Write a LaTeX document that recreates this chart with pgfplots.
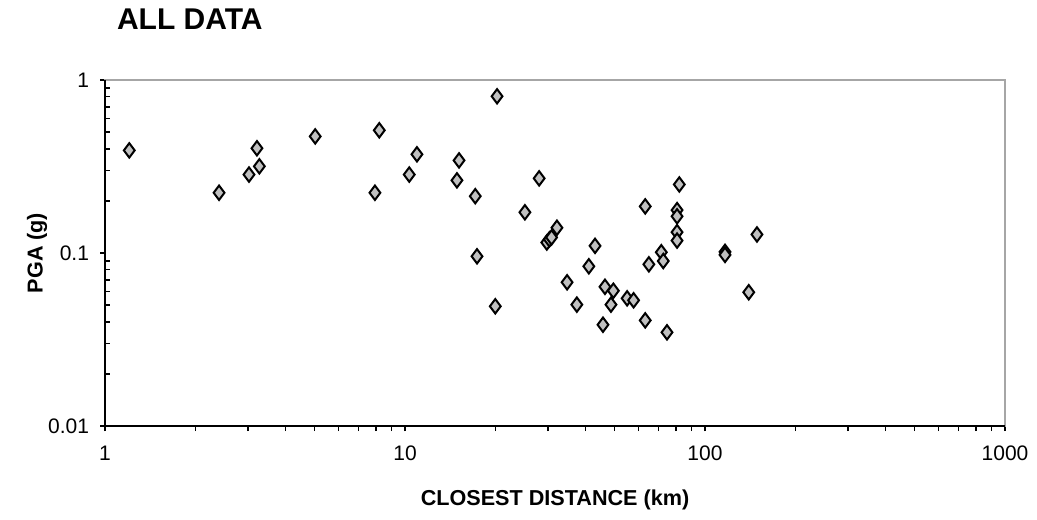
\documentclass[border=0pt]{standalone}
\usepackage{fontspec}
\setmainfont{Liberation Sans}
\usepackage{pgfplots}
\pgfplotsset{compat=1.18}
\definecolor{mk}{RGB}{192,192,192}
\begin{document}
\begin{tikzpicture}
\begin{axis}[
  name=ax,
  xmode=log, ymode=log,
  scale only axis,
  width=450pt, height=173pt,
  xmin=1, xmax=1000, ymin=0.01, ymax=1,
  xtick={1,10,100,1000}, xticklabels={1,10,100,1000},
  ytick={0.01,0.1,1}, yticklabels={0.01,0.1,1},
  yminorticks=false,
  extra y ticks={0.02,0.03,0.04,0.05,0.06,0.07,0.08,0.09,0.2,0.3,0.4,0.5,0.6,0.7,0.8,0.9},
  extra y tick labels={},
  extra y tick style={tick align=inside, major tick length=2.5pt, ytick pos=left},
  xtick pos=bottom, ytick pos=left,
  tick align=outside,
  major tick length=2.5pt, minor tick length=2.5pt,
  tick style={black, line width=0.7pt},
  axis line style={draw=gray!70, line width=0.8pt},
  ticklabel style={font=\fontsize{10.5}{12}\selectfont},
  xticklabel style={yshift=-4pt},
  yticklabel style={xshift=-2pt},
  title={ALL DATA},
  title style={at={(axis description cs:0,1)}, anchor=west, xshift=2.5pt, yshift=24.5pt, font=\bfseries\fontsize{15}{17}\selectfont},
  xlabel={CLOSEST DISTANCE (km)},
  ylabel={PGA (g)},
  xlabel style={at={([yshift=-37pt]axis description cs:0.5,0)}, anchor=center, font=\bfseries\fontsize{10.8}{12}\selectfont},
  ylabel style={at={([xshift=-34pt]axis description cs:0,0.5)}, anchor=center, rotate=0, font=\bfseries\fontsize{10.8}{12}\selectfont},
  clip=false,
]
\addplot[only marks, mark=diamond*, mark size=3.6pt, mark options={fill=mk, draw=black, line width=1pt}] coordinates {
(1.205,0.392)
(2.40,0.223)
(3.02,0.284)
(3.21,0.403)
(3.27,0.317)
(5.02,0.472)
(8.21,0.512)
(7.94,0.223)
(10.33,0.284)
(10.96,0.372)
(15.14,0.343)
(14.9,0.263)
(17.15,0.213)
(17.38,0.0957)
(20.27,0.805)
(20.0,0.0492)
(25.1,0.172)
(28.0,0.270)
(29.7,0.115)
(30.3,0.120)
(30.8,0.123)
(32.1,0.140)
(34.7,0.0677)
(37.4,0.0503)
(41.0,0.0838)
(43.0,0.110)
(45.7,0.0385)
(46.4,0.0638)
(49.5,0.0605)
(48.6,0.0503)
(55.0,0.0547)
(57.8,0.0533)
(63.2,0.186)
(63.2,0.0408)
(65.0,0.086)
(71.5,0.101)
(72.6,0.0899)
(74.7,0.0348)
(80.7,0.177)
(80.7,0.163)
(80.7,0.132)
(80.7,0.118)
(82.1,0.249)
(116.6,0.1015)
(116.6,0.0975)
(139.9,0.0593)
(149,0.128)
};
\draw[black, line width=0.8pt] (rel axis cs:0,1) -- (rel axis cs:0,0) -- (rel axis cs:1,0);
\end{axis}
\pgfresetboundingbox
\path[use as bounding box] ([shift={(-52.5pt,-46.5pt)}]ax.south west) rectangle ([shift={(16pt,40pt)}]ax.north east);
\end{tikzpicture}
\end{document}
